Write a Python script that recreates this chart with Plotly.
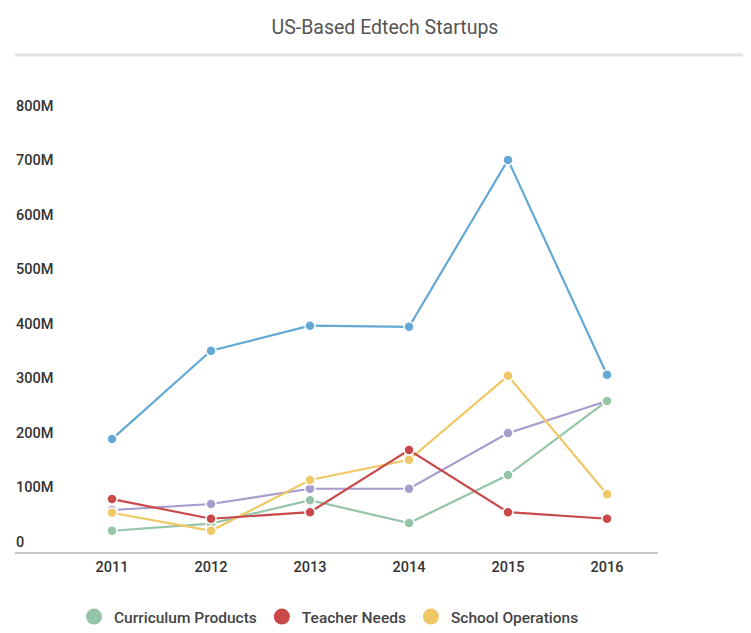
import plotly.graph_objects as go

years = [2011, 2012, 2013, 2014, 2015, 2016]
tick_vals = [0, 100, 200, 300, 400, 500, 600, 700, 800]
tick_text = ["0", "100M", "200M", "300M", "400M", "500M", "600M", "700M", "800M"]

top_series = [207, 369, 415, 413, 719, 325]
purple_series = [77, 88, 116, 116, 218, 277]
curriculum_products = [39, 52, 95, 53, 141, 277]
teacher_needs = [97, 61, 73, 187, 73, 61]
school_operations = [72, 39, 132, 169, 323, 106]

series = [
    ("Top Series", top_series, "#63a9d4"),
    ("Other", purple_series, "#a89ccf"),
    ("Curriculum Products", curriculum_products, "#96c4a9"),
    ("School Operations", school_operations, "#efc865"),
    ("Teacher Needs", teacher_needs, "#c9494b"),
]

fig = go.Figure()
for name, vals, col in series:
    fig.add_trace(go.Scatter(
        x=years, y=vals, mode="lines+markers", name=name,
        line=dict(color=col, width=2.2),
        marker=dict(color=col, size=10, line=dict(color="white", width=1.5)),
        showlegend=False, cliponaxis=False, hoverinfo="skip"))

legend_items = [("Curriculum Products", "#96c4a9"), ("Teacher Needs", "#c9494b"),
                ("School Operations", "#efc865")]
for name, col in legend_items:
    fig.add_trace(go.Scatter(x=[None], y=[None], mode="markers", name=name,
                             marker=dict(color=col, size=16), showlegend=True))

W, H = 743, 625
ML, MR, MT, MB = 7, 93, 87, 81
PW = W - ML - MR
PH = H - MT - MB
RULE_Y = 47  # px from top of figure

fig.update_layout(
    width=W, height=H,
    paper_bgcolor="white", plot_bgcolor="white",
    margin=dict(l=ML, r=MR, t=MT, b=MB, autoexpand=False),
    font=dict(family="Roboto", color="#333"),
    title=dict(text="US-Based Edtech Startups", x=(377 - ML) / PW,
               xanchor="center", xref="paper",
               y=1 - 19 / H, yanchor="middle", font=dict(size=19.5, color="#555")),
    xaxis=dict(range=[2010.02, 2016.515], tickvals=years, showgrid=False,
               showline=True, linecolor="#c8c8c8", linewidth=1.5, zeroline=False,
               ticks="", tickfont=dict(size=14.5, color="#333", weight=500), ticklabelstandoff=1,
               fixedrange=True),
    yaxis=dict(range=[0, 838], tickvals=tick_vals, ticktext=tick_text,
               anchor="free", position=0, ticklabelposition="inside top",
               showgrid=False, zeroline=False, showline=False, ticks="",
               tickfont=dict(size=14.5, color="#333", weight=500), fixedrange=True),
    legend=dict(orientation="h", x=(66 - ML) / PW, xanchor="left",
                y=-(592 - (H - MB)) / PH, yanchor="top",
                font=dict(size=15.5, color="#444", weight=500), itemsizing="trace"),
    shapes=[dict(type="line", xref="paper", yref="paper",
                 x0=0, x1=1.2, y0=(H - RULE_Y - MB) / PH, y1=(H - RULE_Y - MB) / PH,
                 line=dict(color="#e2e2e2", width=3))],
)

try:
    fig.update_yaxes(ticklabelstandoff=-3)
except Exception:
    pass

fig.write_html("out.html")
